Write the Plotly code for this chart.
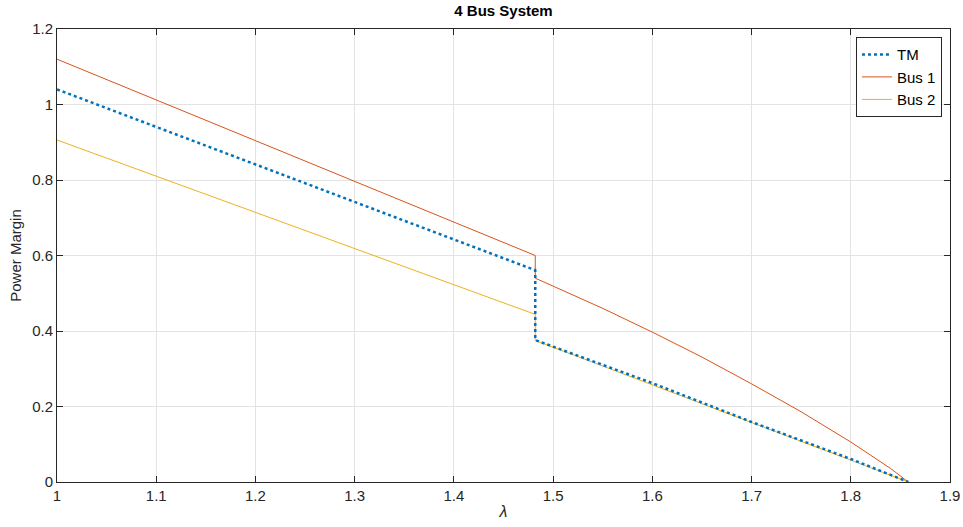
import plotly.graph_objects as go

# Data
tm_x = [1.0, 1.482, 1.482, 1.6, 1.7, 1.8, 1.858]
tm_y = [1.04, 0.561, 0.376, 0.262, 0.159, 0.061, 0.0]

bus1_x = [1.0, 1.482, 1.482, 1.5, 1.55, 1.6, 1.65, 1.7, 1.75, 1.8, 1.82, 1.84, 1.858]
bus1_y = [1.12, 0.600, 0.540, 0.519, 0.460, 0.397, 0.331, 0.260, 0.186, 0.106, 0.072, 0.036, 0.0]

bus2_x = [1.0, 1.482, 1.482, 1.6, 1.7, 1.8, 1.858]
bus2_y = [0.906, 0.444, 0.375, 0.257, 0.156, 0.056, 0.0]

x_ticks = [1, 1.1, 1.2, 1.3, 1.4, 1.5, 1.6, 1.7, 1.8, 1.9]
x_labels = ["1", "1.1", "1.2", "1.3", "1.4", "1.5", "1.6", "1.7", "1.8", "1.9"]
y_ticks = [0, 0.2, 0.4, 0.6, 0.8, 1.0, 1.2]
y_labels = ["0", "0.2", "0.4", "0.6", "0.8", "1", "1.2"]

FONT = "Liberation Sans, Arial, Helvetica, sans-serif"

fig = go.Figure()
fig.add_trace(go.Scatter(x=bus2_x, y=bus2_y, mode="lines", name="Bus 2",
                         line=dict(color="#EDB120", width=1), showlegend=False))
fig.add_trace(go.Scatter(x=bus1_x, y=bus1_y, mode="lines", name="Bus 1",
                         line=dict(color="#D95319", width=1), showlegend=False))
fig.add_trace(go.Scatter(x=tm_x, y=tm_y, mode="lines", name="TM",
                         line=dict(color="#0072BD", width=2.5, dash="dot")))
# legend order: TM, Bus 1, Bus 2
fig.add_trace(go.Scatter(x=[None], y=[None], mode="lines", name="Bus 1",
                         line=dict(color="#D95319", width=1)))
fig.add_trace(go.Scatter(x=[None], y=[None], mode="lines", name="Bus 2",
                         line=dict(color="#EDB120", width=1)))

axis_common = dict(
    showgrid=True, gridcolor="#e3e3e3", gridwidth=1,
    showline=True, linecolor="#262626", linewidth=1, mirror="ticks",
    ticks="inside", ticklen=6, tickcolor="#262626",
    zeroline=False, automargin=False,
    tickfont=dict(size=15, color="#262626", family=FONT),
)

fig.update_layout(
    width=963, height=527,
    margin=dict(l=57, r=13, t=29, b=45),
    plot_bgcolor="white", paper_bgcolor="white",
    font=dict(family=FONT, color="#262626"),
    title=dict(text="<b>4 Bus System</b>", x=0.5, xref="paper", xanchor="center",
               y=1, yref="container", yanchor="top", pad=dict(t=5),
               font=dict(size=15, color="#000000", family=FONT)),
    xaxis=dict(range=[1, 1.9], tickvals=x_ticks, ticktext=x_labels,
               title=dict(text="<i>λ</i>", standoff=2, font=dict(size=16, color="#262626")),
               **axis_common),
    yaxis=dict(range=[0, 1.2], tickvals=y_ticks, ticktext=y_labels,
               title=dict(text="Power Margin", standoff=6, font=dict(size=15, color="#262626")),
               **axis_common),
    legend=dict(x=0.991, y=0.982, xanchor="right", yanchor="top",
                bgcolor="white", bordercolor="#262626", borderwidth=1,
                font=dict(size=15, color="#000000", family=FONT), itemwidth=30,
                tracegroupgap=0),
)

fig.write_html("out.html")
